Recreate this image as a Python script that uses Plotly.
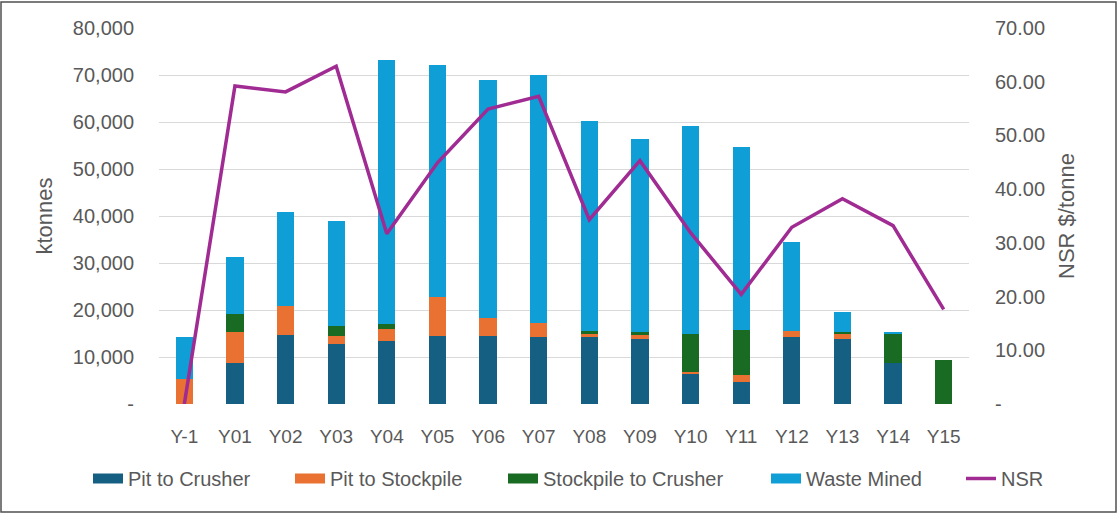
import plotly.graph_objects as go

years = ["Y-1", "Y01", "Y02", "Y03", "Y04", "Y05", "Y06", "Y07", "Y08", "Y09",
         "Y10", "Y11", "Y12", "Y13", "Y14", "Y15"]
pit_to_crusher = [0, 8800, 14700, 12700, 13500, 14450, 14450, 14300, 14300, 13750,
                  6300, 4750, 14300, 13800, 8800, 0]
pit_to_stockpile = [5300, 6600, 6150, 1750, 2400, 8350, 3750, 2850, 700, 950,
                    600, 1400, 1300, 1100, 0, 0]
stockpile_to_crusher = [0, 3700, 0, 2150, 1100, 0, 0, 0, 600, 600,
                        8100, 9600, 0, 500, 6100, 9350]
waste_mined = [9000, 12100, 20100, 22400, 56200, 49300, 50700, 52850, 44700, 41000,
               44200, 38850, 18900, 4250, 500, 0]
nsr = [0, 59.2, 58.1, 62.9, 31.7, 44.9, 54.9, 57.3, 34.3, 45.3,
       31.9, 20.4, 32.9, 38.2, 33.2, 17.6]

left_ticks = [0, 10000, 20000, 30000, 40000, 50000, 60000, 70000, 80000]
left_text = ["-", "10,000", "20,000", "30,000", "40,000", "50,000", "60,000", "70,000", "80,000"]
right_ticks = [0, 10, 20, 30, 40, 50, 60, 70]
right_text = ["-", "10.00", "20.00", "30.00", "40.00", "50.00", "60.00", "70.00"]

colors = {
    "Pit to Crusher": "#156082",
    "Pit to Stockpile": "#E97132",
    "Stockpile to Crusher": "#196B24",
    "Waste Mined": "#0F9ED5",
    "NSR": "#A02B93",
}

FONT = "Liberation Sans, Arial, sans-serif"
GREY = "#595959"

# plot-area geometry (pixels) used for placing layout items in paper coords
PL, PR, PT, PB = 159, 969, 28, 404
PW, PH = PR - PL, PB - PT
def px_x(p):
    return (p - PL) / PW
def px_y(p):
    return (PB - p) / PH

fig = go.Figure()
bar_series = [("Pit to Crusher", pit_to_crusher),
              ("Pit to Stockpile", pit_to_stockpile),
              ("Stockpile to Crusher", stockpile_to_crusher),
              ("Waste Mined", waste_mined)]
for name, vals in bar_series:
    fig.add_trace(go.Bar(x=years, y=vals, name=name, marker_color=colors[name],
                         marker_line_width=0, showlegend=False))

legend_names = ["legend", "legend2", "legend3", "legend4", "legend5"]
# legend keys for the bar series (wide rectangular swatches)
for i, (name, _) in enumerate(bar_series):
    fig.add_trace(go.Scatter(x=[None], y=[None], name=name, mode="lines",
                             line=dict(color=colors[name], width=11),
                             legend=legend_names[i], hoverinfo="skip"))
fig.add_trace(go.Scatter(x=years, y=nsr, name="NSR", mode="lines", yaxis="y2",
                         line=dict(color=colors["NSR"], width=3.5),
                         legend="legend5"))

tickfont_y = dict(family=FONT, size=20, color=GREY)
tickfont_x = dict(family=FONT, size=19, color=GREY)
legend_font = dict(family=FONT, size=20, color=GREY)

text_starts = [130, 332, 545, 808, 1003]
legend_y = px_y(478.5)
legend_layout = {}
for lname, tx in zip(legend_names, text_starts):
    legend_layout[lname] = dict(orientation="h", x=px_x(tx - 42), xanchor="left",
                                y=legend_y, yanchor="middle", font=legend_font,
                                bgcolor="rgba(0,0,0,0)", itemwidth=30)

fig.update_layout(
    width=1120, height=515,
    barmode="stack", bargap=0.66,
    plot_bgcolor="white", paper_bgcolor="white",
    margin=dict(l=PL, r=1120 - PR, t=PT, b=515 - PB),
    showlegend=True,
    xaxis=dict(tickfont=tickfont_x, showgrid=False, showline=False, ticks="",
               ticklabelstandoff=19),
    yaxis=dict(range=[0, 80000], tickvals=left_ticks, ticktext=left_text,
               tickfont=tickfont_y, showgrid=True, gridcolor="#D9D9D9", gridwidth=1,
               zeroline=False, showline=False, ticklabelstandoff=24,
               title=dict(text="ktonnes", font=dict(family=FONT, size=22, color=GREY),
                          standoff=14)),
    yaxis2=dict(range=[0, 70], tickvals=right_ticks, ticktext=right_text, overlaying="y",
                side="right", tickfont=tickfont_y, showgrid=False, zeroline=False,
                showline=False, ticklabelstandoff=25,
                title=dict(text="NSR $/tonne", font=dict(family=FONT, size=22, color=GREY),
                           standoff=14)),
    **legend_layout,
)

# outer border of the chart image
fig.add_shape(type="rect", xref="paper", yref="paper",
              x0=px_x(1), x1=px_x(1116), y0=px_y(512), y1=px_y(2),
              line=dict(color="#505050", width=1.5), fillcolor="rgba(0,0,0,0)", layer="below")

fig.write_html("out.html", config={"displayModeBar": False},
               post_script="document.body.style.margin='0';")
